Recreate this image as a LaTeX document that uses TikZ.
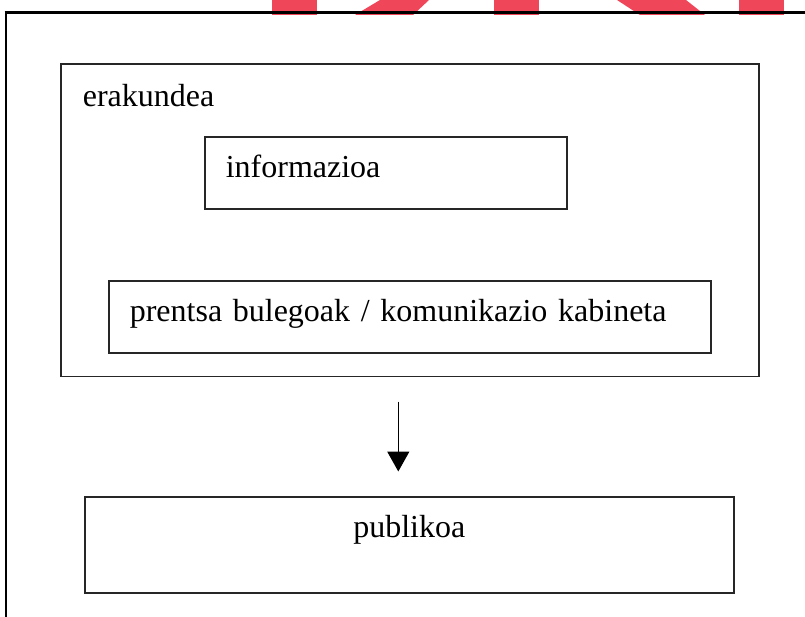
\documentclass[tikz,border=0pt]{standalone}
\usepackage{fontspec}
\setmainfont{Liberation Serif}
\usetikzlibrary{positioning,arrows.meta}
\definecolor{stamp}{RGB}{240,70,90}

\begin{document}
\begin{tikzpicture}[x=1pt,y=-1pt]
\tikzstyle{box}=[draw=black!85, line width=1.6pt, inner ysep=0pt, inner xsep=21pt, align=left, font=\fontsize{32}{38}\selectfont]
\tikzstyle{small box}=[box, text height=41pt, text depth=31pt]

\useasboundingbox (0,0) rectangle (805,617);
% red letters, cut off at the top
\fill[stamp] (272,0) rectangle (317,15);
\fill[stamp] (380,0) -- (429,0) -- (413,15) -- (355,15) -- cycle;
\fill[stamp] (494,0) rectangle (539,15);
\fill[stamp] (617,0) -- (686,0) -- (705,15) -- (640,15) -- cycle;
\fill[stamp] (739,0) rectangle (784,15);
% page frame
\draw[line width=3pt] (4.5,12.5) -- (805,12.5);
\draw[line width=2pt] (5.5,12.5) -- (5.5,617);

\node[box, anchor=north west, inner xsep=22pt, text width=654pt, text height=43pt, text depth=269.5pt] (E) at (60,63) {erakundea};
\node[small box, anchor=north west, text width=320pt] (I) at (204,136) {informazioa};
\node[small box, anchor=north west, text width=560pt] (P) at (108,280) {prentsa bulegoak / komunikazio kabineta};
\node[box, anchor=north west, align=center, text width=607pt, text height=41pt, text depth=55pt] (U) at (84,496) {publikoa};

\draw[-{Triangle[width=22pt,length=20pt]}, line width=1.5pt] ([xshift=-11.5pt, yshift=-24.5pt]E.south) -- ([xshift=-11pt, yshift=24.5pt]U.north);
\end{tikzpicture}
\end{document}
